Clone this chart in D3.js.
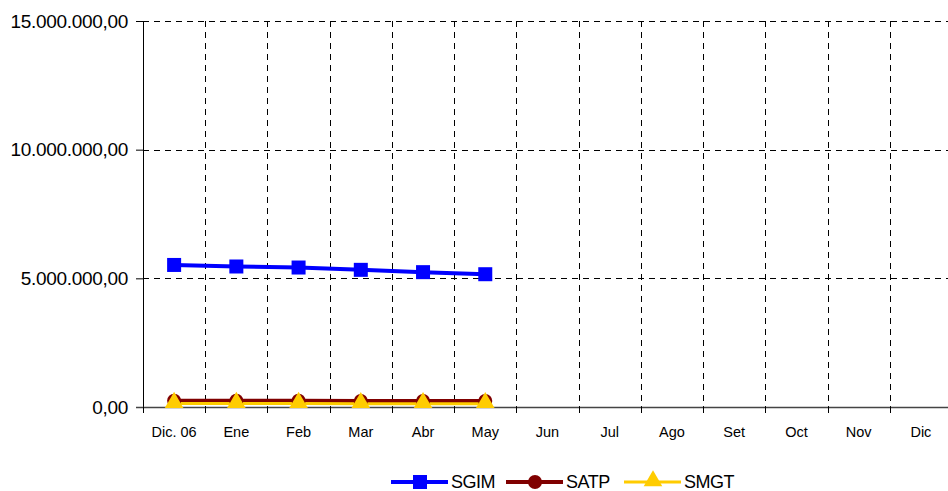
<!DOCTYPE html>
<html>
<head>
<meta charset="utf-8">
<script src="https://cdn.jsdelivr.net/npm/d3@7"></script>
<style>
  body { margin: 0; background: #fff; }
  text { font-family: "Liberation Sans", Arial, sans-serif; fill: #000; }
</style>
</head>
<body>
<div id="chart"></div>
<script>
// chart data
const months = ["Dic. 06", "Ene", "Feb", "Mar", "Abr", "May", "Jun", "Jul", "Ago", "Set", "Oct", "Nov", "Dic"];
const sgim = [5520000, 5460000, 5420000, 5330000, 5240000, 5160000];
const satp = [245000, 245000, 240000, 238000, 238000, 235000];
const smgt = [135000, 135000, 132000, 130000, 130000, 128000];
const yTicks = [0, 5000000, 10000000, 15000000];

const series = [
    { name: "SGIM", values: sgim, color: "#0000ff", width: 4, marker: "square" },
    { name: "SATP", values: satp, color: "#800000", width: 4, marker: "circle" },
    { name: "SMGT", values: smgt, color: "#ffcc00", width: 3, marker: "triangle" }
];

const svgWidth = 948;
const svgHeight = 491;
const margin = { top: 21, right: -4, bottom: 84, left: 143 };
const width = svgWidth - margin.left - margin.right;
const height = svgHeight - margin.top - margin.bottom;

const svg = d3.select("#chart")
    .append("svg")
    .attr("width", svgWidth)
    .attr("height", svgHeight);

const chartGroup = svg.append("g")
    .attr("transform", `translate(${margin.left}, ${margin.top})`);

// scales
const xScale = d3.scaleBand()
    .domain(months)
    .range([0, width]);

const yScale = d3.scaleLinear()
    .domain([0, 15000000])
    .range([height, 0]);

// 15.000.000,00 style numbers
const fmt = v => d3.format(",.2f")(v).replace(/,/g, "#").replace(".", ",").replace(/#/g, ".");

// vertical dashed gridlines at category boundaries
chartGroup.append("g")
    .selectAll("line")
    .data(months.slice(1))
    .enter()
    .append("line")
    .attr("x1", d => Math.round(xScale(d)) + 0.5)
    .attr("x2", d => Math.round(xScale(d)) + 0.5)
    .attr("y1", 0)
    .attr("y2", height)
    .attr("stroke", "#000")
    .attr("stroke-dasharray", "6,5");

// horizontal dashed gridlines
chartGroup.append("g")
    .selectAll("line")
    .data(yTicks.slice(1))
    .enter()
    .append("line")
    .attr("x1", 0)
    .attr("x2", width)
    .attr("y1", d => Math.round(yScale(d)) + 0.5)
    .attr("y2", d => Math.round(yScale(d)) + 0.5)
    .attr("stroke", "#000")
    .attr("stroke-dasharray", "6,5");

// left axis
const leftAxis = d3.axisLeft(yScale)
    .tickValues(yTicks)
    .tickSize(7)
    .tickPadding(8)
    .tickFormat(fmt);

const yAxisG = chartGroup.append("g")
    .call(leftAxis);
yAxisG.select(".domain").attr("stroke", "#000");
yAxisG.selectAll("text")
    .attr("font-size", "19px")
    .attr("letter-spacing", "-0.3px")
    .style("font-family", "inherit");

// bottom axis: ticks at category boundaries, labels centred
const xAxisG = chartGroup.append("g")
    .attr("transform", `translate(0, ${height})`);

xAxisG.append("line")
    .attr("x1", -7)
    .attr("x2", width)
    .attr("y1", 0.5)
    .attr("y2", 0.5)
    .attr("stroke", "#444")
    .attr("stroke-width", 1.5);

xAxisG.selectAll(".xtick")
    .data(months)
    .enter()
    .append("line")
    .attr("class", "xtick")
    .attr("x1", d => Math.round(xScale(d)) + 0.5)
    .attr("x2", d => Math.round(xScale(d)) + 0.5)
    .attr("y1", 0)
    .attr("y2", 6)
    .attr("stroke", "#000");

xAxisG.selectAll(".xlabel")
    .data(months)
    .enter()
    .append("text")
    .attr("class", "xlabel")
    .attr("x", d => xScale(d) + xScale.bandwidth() / 2)
    .attr("y", 30)
    .attr("text-anchor", "middle")
    .attr("font-size", "14.5px")
    .text(d => d);

// lines and markers
const line = d3.line()
    .x((d, i) => xScale(months[i]) + xScale.bandwidth() / 2)
    .y(d => yScale(d));

function drawMarker(g, type, color) {
    if (type === "square") {
        g.append("rect").attr("x", -7).attr("y", -7).attr("width", 14).attr("height", 14).attr("fill", color);
    } else if (type === "circle") {
        g.append("circle").attr("r", 7).attr("fill", color);
    } else {
        g.append("path").attr("d", d3.symbol(d3.symbolTriangle, 150)()).attr("transform", "translate(0,-1)").attr("fill", color);
    }
}

series.forEach(s => {
    chartGroup.append("path")
        .datum(s.values)
        .attr("fill", "none")
        .attr("stroke", s.color)
        .attr("stroke-width", s.width)
        .attr("d", line);
});

series.forEach(s => {
    s.values.forEach((v, i) => {
        const g = chartGroup.append("g")
            .attr("transform", `translate(${xScale(months[i]) + xScale.bandwidth() / 2}, ${yScale(v)})`);
        drawMarker(g, s.marker, s.color);
    });
});

// legend
const legendX = [391, 506, 624];
const legend = svg.append("g");
series.forEach((s, i) => {
    const lg = legend.append("g").attr("transform", `translate(${legendX[i]}, 482)`);
    lg.append("line")
        .attr("x1", 0).attr("x2", 57)
        .attr("y1", 0).attr("y2", 0)
        .attr("stroke", s.color)
        .attr("stroke-width", s.width);
    const m = lg.append("g").attr("transform", "translate(29, 0)");
    drawMarker(m, s.marker, s.color);
    lg.append("text")
        .attr("x", 60)
        .attr("y", 6)
        .attr("font-size", "18px")
        .attr("letter-spacing", "-0.5px")
        .text(s.name);
});
</script>
</body>
</html>
